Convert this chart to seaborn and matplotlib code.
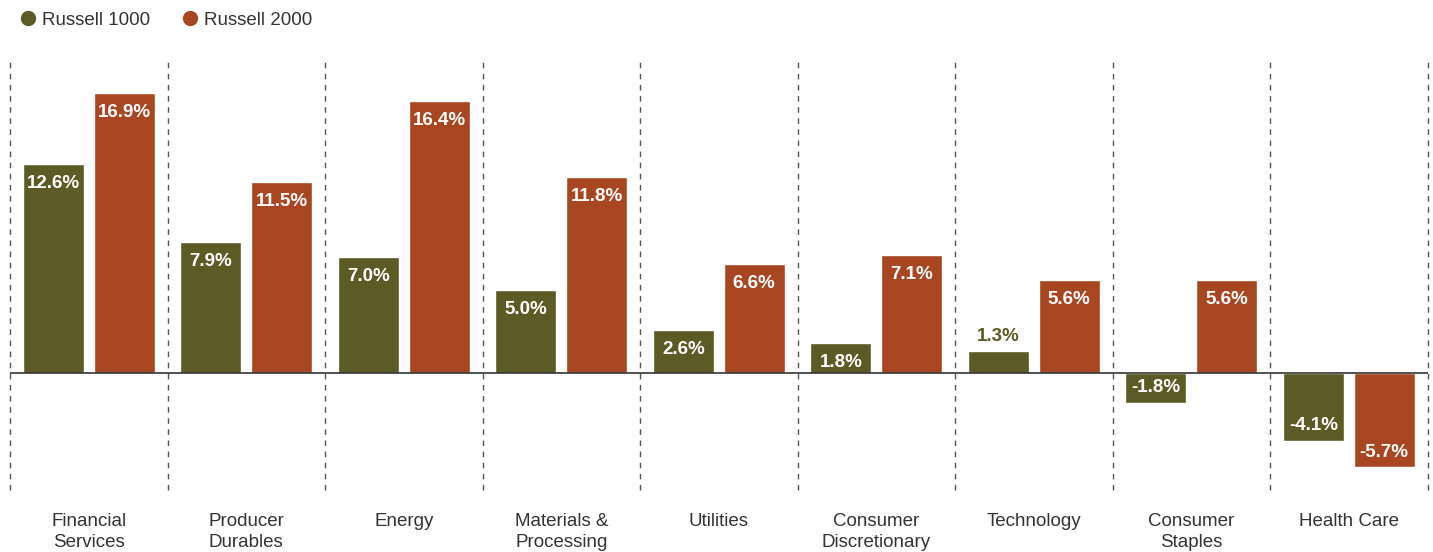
import matplotlib
matplotlib.use("Agg")
import matplotlib.pyplot as plt
from matplotlib.lines import Line2D
import pandas as pd
import seaborn as sns

# ── Data ──────────────────────────────────────────────────────────────────────
SECTORS = [
    "Financial\nServices", "Producer\nDurables", "Energy", "Materials &\nProcessing",
    "Utilities", "Consumer\nDiscretionary", "Technology", "Consumer\nStaples", "Health Care",
]
RUSSELL_1000 = [12.6, 7.9, 7.0, 5.0, 2.6, 1.8, 1.3, -1.8, -4.1]
RUSSELL_2000 = [16.9, 11.5, 16.4, 11.8, 6.6, 7.1, 5.6, 5.6, -5.7]
SERIES = ["Russell 1000", "Russell 2000"]

# ── Style ─────────────────────────────────────────────────────────────────────
OLIVE = "#5c5a25"
RUST = "#a94622"
TEXT = "#333333"
FS = 13.5

sns.set_style("white")
plt.rcParams["font.family"] = ["Liberation Sans", "DejaVu Sans"]

df = pd.DataFrame({
    "sector": SECTORS * 2,
    "series": [SERIES[0]] * len(SECTORS) + [SERIES[1]] * len(SECTORS),
    "value": RUSSELL_1000 + RUSSELL_2000,
})

fig = plt.figure(figsize=(14.33, 5.52), dpi=100)
ax = fig.add_axes([0.00698, 0.1123, 0.9892, 0.7754])

sns.barplot(
    data=df, x="sector", y="value", hue="series", hue_order=SERIES,
    order=SECTORS, palette=[OLIVE, RUST], width=0.9, gap=0.14,
    errorbar=None, saturation=1, ax=ax,
)
ax.get_legend().remove()

ax.set_xlim(-0.5, len(SECTORS) - 0.5)
ax.set_ylim(-7.06, 18.77)

# dashed separators between sectors
for i in range(len(SECTORS) + 1):
    ax.axvline(i - 0.5, color="#555555", linewidth=1, linestyle=(0, (4, 4)),
               zorder=0, clip_on=False)
ax.axhline(0, color="#333333", linewidth=1.2, zorder=3)

# value labels: inside the bar end, or above when the bar is too short
for container in ax.containers:
    for patch in container.patches:
        v = patch.get_height()
        xc = patch.get_x() + patch.get_width() / 2
        if abs(v) < 1.5:
            ax.annotate(f"{v:.1f}%", (xc, v), xytext=(0, 11), textcoords="offset points",
                        ha="center", va="center", fontsize=FS, fontweight="bold",
                        color=patch.get_facecolor(), annotation_clip=False)
        else:
            off = -14 if v > 0 else 11
            ax.annotate(f"{v:.1f}%", (xc, v), xytext=(0, off), textcoords="offset points",
                        ha="center", va="center", fontsize=FS, fontweight="bold",
                        color="white")

ax.set_xlabel("")
ax.set_ylabel("")
ax.set_yticks([])
ax.tick_params(axis="x", length=0, pad=16.5, labelsize=FS, labelcolor=TEXT)
for lbl in ax.get_xticklabels():
    lbl.set_linespacing(1.3)
sns.despine(ax=ax, left=True, bottom=True)

handles = [Line2D([], [], marker="o", linestyle="", markersize=10, color=c) for c in (OLIVE, RUST)]
fig.legend(handles, SERIES, loc="upper left", bbox_to_anchor=(0.013, 0.979), ncol=2,
           frameon=False, fontsize=FS, handletextpad=0.25, columnspacing=1.63,
           labelcolor=TEXT, handlelength=1.0, borderpad=0, borderaxespad=0)

fig.savefig("out.png", dpi=100)
